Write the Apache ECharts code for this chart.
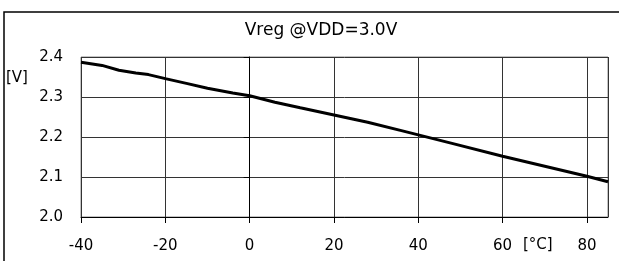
<!DOCTYPE html>
<html>
<head>
<meta charset="utf-8">
<script src="https://cdn.jsdelivr.net/npm/echarts@6/dist/echarts.min.js"></script>
<style>
html, body { margin: 0; padding: 0; background: #fff; }
#main { width: 619px; height: 261px; }
</style>
</head>
<body>
<div id="main"></div>
<script>
// temperature [°C] and regulator voltage [V]
var temps = [-40, -35, -31, -27, -24, -20, -15, -10, -4, 0, 6, 12, 20, 28, 36, 48, 60, 80, 85]
var vreg = [2.387, 2.379, 2.367, 2.360, 2.356, 2.346, 2.334, 2.322, 2.310, 2.303, 2.287, 2.273, 2.255, 2.237, 2.216, 2.184, 2.152, 2.102, 2.088]
var yTicks = [2.0, 2.1, 2.2, 2.3, 2.4]
var xTicks = [-40, -20, 0, 20, 40, 60, 80]

var font = 'DejaVu Sans'
var myChart = echarts.init(document.getElementById('main'))
myChart.setOption({
  animation: false,
  backgroundColor: '#fff',
  title: {
    text: 'Vreg @VDD=3.0V',
    left: 316,
    top: 17,
    textAlign: 'center',
    textStyle: { fontFamily: font, fontSize: 17, fontWeight: 'normal', color: '#000' }
  },
  grid: {
    left: 81,
    right: 11,
    top: 57,
    bottom: 44,
    show: true,
    borderColor: '#888',
    borderWidth: 1
  },
  //外框和单位
  graphic: [
    {
      type: 'rect',
      shape: { x: 4, y: 12, width: 700, height: 400 },
      style: { fill: 'none', stroke: '#000', lineWidth: 1.5 }
    },
    {
      type: 'text',
      left: 6,
      top: 71,
      style: { text: '[V]', font: '15px "DejaVu Sans"', fill: '#000' }
    },
    {
      type: 'text',
      left: 523,
      top: 238,
      style: { text: '[°C]', font: '15px "DejaVu Sans"', fill: '#000' }
    }
  ],
  xAxis: {
    type: 'value',
    min: xTicks[0],
    max: 85,
    interval: 20,
    axisLine: { lineStyle: { color: '#000', width: 1 } },
    axisTick: { show: true, length: 6, lineStyle: { color: '#000' } },
    axisLabel: {
      margin: 22,
      color: '#000',
      fontFamily: font,
      fontSize: 15,
      showMaxLabel: false
    },
    splitLine: { show: true, lineStyle: { color: '#333', width: 1 } }
  },
  yAxis: {
    type: 'value',
    min: yTicks[0],
    max: yTicks[yTicks.length - 1],
    interval: 0.1,
    axisLine: { show: true, lineStyle: { color: '#000', width: 1 } },
    axisTick: { show: true, length: 6, lineStyle: { color: '#000' } },
    axisLabel: {
      margin: 18,
      color: '#000',
      fontFamily: font,
      fontSize: 15,
      formatter: function (v) { return v.toFixed(1) }
    },
    splitLine: { show: true, lineStyle: { color: '#333', width: 1 } }
  },
  series: [
    {
      type: 'line',
      data: temps.map(function (t, i) { return [t, vreg[i]] }),
      showSymbol: false,
      lineStyle: { color: '#000', width: 3 },
      clip: false
    }
  ]
})
</script>
</body>
</html>
